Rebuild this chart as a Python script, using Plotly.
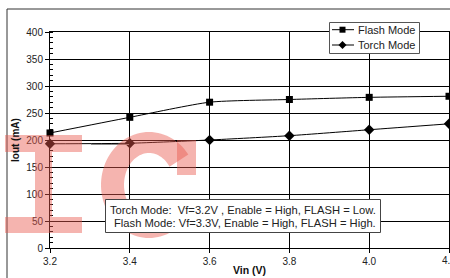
import numpy as np
import plotly.graph_objects as go

# ---- data ----
vin = [3.2, 3.4, 3.6, 3.8, 4.0, 4.2]
flash_mode = [213, 242, 270, 275, 279, 281]
torch_mode = [193, 194, 200, 208, 219, 230]
x_ticks = [3.2, 3.4, 3.6, 3.8, 4.0, 4.2]
y_ticks = [0, 50, 100, 150, 200, 250, 300, 350, 400]
series_names = ["Flash Mode", "Torch Mode"]
note_lines = ["Torch Mode:  Vf=3.2V , Enable = High, FLASH = Low.",
              "Flash Mode: Vf=3.3V, Enable = High, FLASH = High."]

W, H = 450, 278
ML, MR, MT, MB = 50, 1, 32, 30
PW, PH = W - ML - MR, H - MT - MB


def px(x):
    return (x - ML) / PW


def py(y):
    return (H - MB - y) / PH


FONT = "Liberation Sans, Arial, sans-serif"

fig = go.Figure()
fig.add_trace(go.Scatter(
    x=vin, y=flash_mode, name=series_names[0], mode="lines+markers",
    line=dict(color="black", width=1, shape="spline", smoothing=0.6),
    marker=dict(symbol="square", size=7, color="black"), cliponaxis=False,
    showlegend=False))
fig.add_trace(go.Scatter(
    x=vin, y=torch_mode, name=series_names[1], mode="lines+markers",
    line=dict(color="black", width=1, shape="spline", smoothing=0.6),
    marker=dict(symbol="diamond", size=8, color="black"), cliponaxis=False,
    showlegend=False))

shapes = []
annotations = []
# outer chart frame
shapes.append(dict(type="rect", xref="paper", yref="paper",
                   x0=px(7), x1=px(470), y0=py(300), y1=py(9),
                   line=dict(color="#333", width=1), layer="below"))
# stray grey segment
shapes.append(dict(type="line", xref="paper", yref="paper",
                   x0=px(91), x1=px(129), y0=py(144.5), y1=py(144.5),
                   line=dict(color="#888", width=1)))

# ---- legend (drawn manually to match compact layout) ----
shapes.append(dict(type="rect", xref="paper", yref="paper",
                   x0=px(329.5), x1=px(419.5), y0=py(53.5), y1=py(22.5),
                   fillcolor="white", line=dict(color="#555", width=1),
                   layer="above"))
for i, name in enumerate(series_names):
    yc = 29.7 + 15.3 * i
    shapes.append(dict(type="line", xref="paper", yref="paper",
                       x0=px(332), x1=px(354), y0=py(yc), y1=py(yc),
                       line=dict(color="black", width=1), layer="above"))
    if i == 0:
        shapes.append(dict(type="rect", xref="paper", yref="paper",
                           x0=px(339.5), x1=px(345.5), y0=py(yc + 3), y1=py(yc - 3),
                           fillcolor="black", line=dict(width=0), layer="above"))
    else:
        d = 4
        p = (f"M {px(342.5 - d)},{py(yc)} L {px(342.5)},{py(yc - d)} "
             f"L {px(342.5 + d)},{py(yc)} L {px(342.5)},{py(yc + d)} Z")
        shapes.append(dict(type="path", xref="paper", yref="paper", path=p,
                           fillcolor="black", line=dict(width=0), layer="above"))
    annotations.append(dict(text=name, xref="paper", yref="paper",
                            x=px(356), y=py(yc), xanchor="left", yanchor="middle",
                            showarrow=False,
                            font=dict(family=FONT, size=11, color="#222")))

# watermark "IC"
wm = "rgba(233,88,77,0.45)"
for (x0, x1, y0, y1) in [(5, 82, 135, 152), (35, 52, 152, 217), (5, 82, 217, 233)]:
    shapes.append(dict(type="rect", xref="paper", yref="paper",
                       x0=px(x0), x1=px(x1), y0=py(y1), y1=py(y0),
                       fillcolor=wm, line=dict(width=0), layer="above"))
cx, cy = 149, 185
rxo, ryo, rxi, ryi = 48, 53, 25, 32
a = np.radians(np.linspace(35, 325, 80))
outer = [(cx + rxo * np.cos(t), cy - ryo * np.sin(t)) for t in a]
inner = [(cx + rxi * np.cos(t), cy - ryi * np.sin(t)) for t in a[::-1]]
pts = outer + inner
path = "M " + " L ".join(f"{px(x):.5f},{py(y):.5f}" for x, y in pts) + " Z"
shapes.append(dict(type="path", xref="paper", yref="paper", path=path,
                   fillcolor=wm, line=dict(width=0), layer="above"))
shapes.append(dict(type="rect", xref="paper", yref="paper",
                   x0=px(177), x1=px(196), y0=py(175), y1=py(140),
                   fillcolor=wm, line=dict(width=0), layer="above"))

# ---- note box ----
shapes.append(dict(type="rect", xref="paper", yref="paper",
                   x0=px(105.5), x1=px(380.5), y0=py(232.5), y1=py(199.5),
                   fillcolor="white", line=dict(color="#444", width=1),
                   layer="above"))
for i, line in enumerate(note_lines):
    annotations.append(dict(text=line, xref="paper", yref="paper",
                            x=px(377.5), y=py(210 + 12.7 * i),
                            xanchor="right", yanchor="middle", showarrow=False,
                            font=dict(family=FONT, size=11.2, color="#222")))

# last x tick label (sits on the right edge, partly outside the chart)
tick_text = [f"{v:.1f}" for v in x_ticks]
annotations.append(dict(text=tick_text[-1], xref="x", yref="paper",
                        x=x_ticks[-1], y=py(260), xanchor="center",
                        yanchor="middle", showarrow=False,
                        font=dict(family=FONT, size=10, color="#222")))
tick_text[-1] = ""

annotations += [
    dict(text="<b>Vin (V)</b>", xref="paper", yref="paper", x=0.5, y=py(270),
         xanchor="center", yanchor="middle", showarrow=False,
         font=dict(family=FONT, size=10.5, color="#111")),
    dict(text="<b>Iout (mA)</b>", xref="paper", yref="paper", x=px(15), y=0.5,
         xanchor="center", yanchor="middle", showarrow=False, textangle=-90,
         font=dict(family=FONT, size=10, color="#111")),
]

fig.update_layout(
    width=W, height=H, margin=dict(l=ML, r=MR, t=MT, b=MB),
    paper_bgcolor="white", plot_bgcolor="white",
    font=dict(family=FONT, size=10, color="#222"),
    showlegend=False,
    shapes=shapes, annotations=annotations,
    xaxis=dict(range=[3.2, 4.2], tickvals=x_ticks, ticktext=tick_text,
               showgrid=True, gridcolor="black", gridwidth=1,
               showline=True, linecolor="black", linewidth=1, mirror=True,
               ticks="outside", ticklen=4, tickcolor="black",
               zeroline=False, fixedrange=True, automargin=False),
    yaxis=dict(range=[0, 400], tickvals=y_ticks,
               showgrid=True, gridcolor="black", gridwidth=1,
               showline=True, linecolor="black", linewidth=1, mirror=True,
               ticks="outside", ticklen=4, tickcolor="black",
               minor=dict(dtick=10, ticks="inside", ticklen=3,
                          tickcolor="black", showgrid=False),
               zeroline=False, fixedrange=True, automargin=False),
)

fig.write_html("out.html", config={"displayModeBar": False},
               post_script="document.body.style.margin='0px';"
                           "document.body.style.overflow='hidden';")
